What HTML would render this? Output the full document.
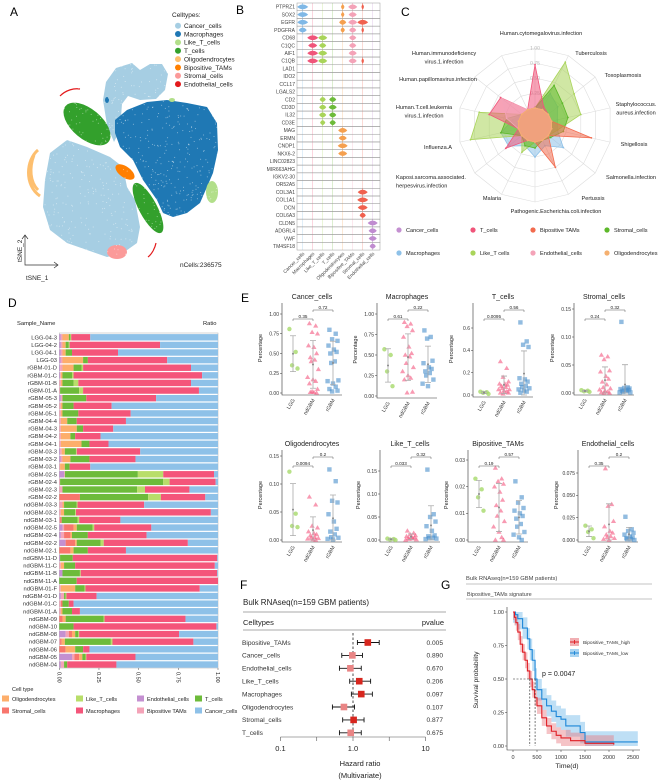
<!DOCTYPE html>
<html><head><meta charset="utf-8">
<style>
html,body{margin:0;padding:0;background:#fff;}
svg{display:block;font-family:"Liberation Sans",Arial,sans-serif;}
</style></head>
<body>
<svg id="fig" width="672" height="781" viewBox="0 0 672 781" xmlns="http://www.w3.org/2000/svg"></svg>
<script>
// ---------- DATA ----------
// Panel B
const bGenes=["PTPRZ1","SOX2","EGFR","PDGFRA","CD68","C1QC","AIF1","C1QB","LAD1","IDO2","CCL17","LGALS2","CD2","CD3D","IL32","CD3E","MAG","ERMN","CNDP1","NKX6-2","LINC02823","MIR663AHG","IGKV2-30","OR52A5","COL3A1","COL1A1","DCN","COL6A3","CLDN5","ADGRL4","VWF","TM4SF18"];
const bTypes=["Cancer_cells","Macrophages","Like_T_cells","T_cells","Oligodendrocytes","Bipositive_TAMs","Stromal_cells","Endothelial_cells"];
const bExpr=[
[1,0,0,0,.2,.8,.1,0],[1,0,0,0,.2,.7,0,0],[1,0,0,0,.6,.8,1,0],[.7,0,0,0,.3,.6,.1,0],
[0,1,.8,0,0,.6,0,0],[0,.8,.6,0,0,.6,0,0],[0,1,.8,0,0,.7,0,0],[0,1,.8,0,0,.7,.1,0],
[0,0,0,0,0,0,0,0],[0,0,0,0,0,0,0,0],[0,0,0,0,0,0,0,0],[0,0,0,0,0,0,0,0],
[0,0,.5,.6,0,0,0,0],[0,0,.6,.7,0,0,0,0],[0,0,.6,.6,0,0,0,0],[0,0,.4,.5,0,0,0,0],
[0,0,0,0,.8,0,0,0],[0,0,0,0,.7,0,0,0],[0,0,0,0,.9,0,0,0],[0,0,0,0,.8,0,0,0],
[0,0,0,0,0,0,0,0],[0,0,0,0,0,0,0,0],[0,0,0,0,0,0,0,0],[0,0,0,0,0,0,0,0],
[0,0,0,0,0,0,.9,0],[0,0,0,0,0,0,1,0],[0,0,0,0,0,0,.9,0],[0,0,0,0,0,0,.5,0],
[0,0,0,0,0,0,0,.9],[0,0,0,0,0,0,0,.7],[0,0,0,0,0,0,0,.7],[0,0,0,0,0,0,0,.5]];
// Panel C radar
const cAxes=["Human.cytomegalovirus.infection","Tuberculosis","Toxoplasmosis","Staphylococcus.aureus.infection","Shigellosis","Salmonella.infection","Pertussis","Pathogenic.Escherichia.coli.infection","Malaria","Kaposi.sarcoma.associated.herpesvirus.infection","Influenza.A","Human.T.cell.leukemia.virus.1.infection","Human.papillomavirus.infection","Human.immunodeficiency.virus.1.infection"];
const cCancer=[0,0,0,0,0,0,0,0,0,0,0,0,0,0];
const cMacro=[0,.3,.2,.1,.1,.32,.1,.25,.1,.28,.3,.1,0,0];
const cLikeT=[0,.88,.55,.5,.1,0,0,0,.22,0,.82,.67,0,0];
const cStromal=[0,.45,.3,.28,.2,.05,0,.1,.1,0,.3,.2,0,0];
const cTcells=[.72,.05,0,0,0,0,0,0,0,.34,0,.5,.45,0];
const cBipos=[0,0,0,0,.68,0,.5,0,0,0,0,0,0,0];
const cEndo=[0,0,0,0,0,0,0,0,0,0,0,.2,.42,0];
const cOligo=[0,0,0,0,0,0,0,0,0,0,0,0,0,0];
// Panel D stacked (order: endo,bipos,stromal,oligo,T,likeT,macro; cancer = remainder)
const dSamples=["LGG-04-3","LGG-04-2","LGG-04-1","LGG-03","rGBM-01-D","rGBM-01-C","rGBM-01-B","rGBM-01-A","rGBM-05-3","rGBM-05-2","rGBM-05-1","rGBM-04-4","rGBM-04-3","rGBM-04-2","rGBM-04-1","rGBM-03-3","rGBM-03-2","rGBM-03-1","rGBM-02-5","rGBM-02-4","rGBM-02-3","rGBM-02-2","ndGBM-03-3","ndGBM-03-2","ndGBM-03-1","ndGBM-02-5","ndGBM-02-4","ndGBM-02-2","ndGBM-02-1","ndGBM-11-D","ndGBM-11-C","ndGBM-11-B","ndGBM-11-A","ndGBM-01-F","ndGBM-01-D","ndGBM-01-C","ndGBM-01-A","ndGBM-09","ndGBM-10","ndGBM-08","ndGBM-07","ndGBM-06","ndGBM-05","ndGBM-04"];
const dProps=[
[.01,.01,0,.04,.01,.005,.12],[.01,.01,0,.02,.02,.005,.57],[.01,.01,0,.02,.04,0,.29],[.01,.01,0,.13,.03,0,.5],
[.005,.015,0,.07,.05,.01,.68],[.005,.005,0,.01,.06,.01,.81],[0,.01,0,.01,.07,.03,.71],[0,.005,0,0,.12,.025,.73],
[.01,.01,0,0,.15,0,.44],[0,.01,0,.01,.07,0,.24],[0,.01,0,.01,.1,0,.33],[0,.01,0,.04,.06,0,.31],
[0,.01,0,.1,.04,0,.19],[0,.01,0,.06,.03,0,.16],[0,.01,0,.13,.05,0,.12],[.005,.01,0,.02,.07,.005,.4],
[.01,.01,0,.05,.12,0,.29],[0,.005,0,.03,.03,0,.13],[.03,.005,0,0,.46,.16,.32],[0,.005,0,0,.65,.04,.29],
[0,.02,0,0,.47,.05,.28],[0,0,.13,0,.43,.08,.28],[0,.02,0,.01,.08,.005,.42],[0,.01,0,.02,.07,.005,.85],
[0,.005,.01,0,.1,.01,.26],[.02,.01,.06,.02,.1,.01,.36],[.01,.02,.04,.01,.1,0,.37],[.04,0,.06,.01,.15,.02,.53],
[0,0,.07,.02,.09,0,.24],[.005,0,0,0,.08,0,.91],[0,.01,0,.02,.07,0,.88],[.02,0,0,0,.11,.005,.86],
[0,0,0,0,.11,0,.89],[0,.01,0,.09,.06,.005,.72],[.01,.02,0,0,.01,.005,.19],[0,.01,.01,0,.04,0,.03],
[0,.01,0,.01,.06,0,.05],[0,0,.02,.02,.24,.005,.51],[0,0,0,0,.09,0,.9],[.04,.02,.02,.02,.02,.005,.63],
[0,.005,.01,.02,.29,.01,.51],[0,0,.04,.06,.05,0,.04],[.08,.015,.03,.02,.02,.005,.31],[.01,.02,0,0,.02,0,.31]];
const dTicks=[0,0.25,0.5,0.75,1];
const dTickLabels=["0.00","0.25","0.50","0.75","1.00"];
// Panel E
const eTitles=["Cancer_cells","Macrophages","T_cells","Stromal_cells","Oligodendrocytes","Like_T_cells","Bipositive_TAMs","Endothelial_cells"];
const eLGG=[[.81,.52,.35,.31],[.57,.5,.3,.12],[.03,.025,.02,.01],[.005,.004,.003,.002],[.122,.047,.025,.023],[.003,.002,.001,0],[.023,.019,.016,.011],[.016,.012,.009,.002]];
const eND=[[.88,.85,.77,.75,.6,.58,.5,.45,.42,.4,.3,.2,.17,.15,.12,.05,.02,.01,.01,0],
[.9,.88,.85,.8,.72,.6,.52,.5,.48,.4,.35,.3,.25,.22,.2,.05,.04],
[.3,.24,.16,.12,.1,.1,.09,.08,.07,.06,.05,.05,.04,.03,.02,.02,.01],
[.068,.065,.06,.04,.038,.03,.025,.02,.015,.01,.008,.006,.004,.002,.001,0,0],
[.077,.063,.025,.022,.015,.012,.01,.008,.005,.004,.003,.002,.001,0],
[.02,.015,.012,.01,.008,.006,.005,.004,.003,.002,.001,0],
[.027,.023,.022,.021,.02,.018,.015,.013,.011,.009,.007,.005,.003,.001,0,0],
[.08,.04,.038,.021,.015,.01,.008,.006,.004,.003,.002,.001,0]];
const eRG=[[.8,.75,.68,.66,.6,.55,.52,.5,.4,.38,.16,.15,.12,.08,.05,.03,.02],
[.8,.72,.7,.43,.4,.35,.33,.3,.28,.25,.2,.15,.12],
[.65,.48,.45,.43,.15,.14,.12,.1,.08,.07,.06,.05,.04,.03,.02],
[.127,.01,.009,.008,.007,.006,.005,.004,.003,.002,.001,.001],
[.126,.105,.07,.067,.046,.033,.02,.015,.01,.005,.004,.002,.001],
[.153,.056,.05,.04,.03,.02,.01,.008,.005,.004,.003,.002],
[.022,.016,.014,.012,.011,.01,.009,.008,.006,.005,.003,.002,.001,0],
[.026,.012,.01,.008,.006,.004,.003,.002,.001,.001,0]];
const eTicks=[[0,.25,.5,.75,1],[0,.25,.5,.75,1],[0,.2,.4,.6],[0,.05,.1,.15],[0,.05,.1,.15],[0,.05,.1,.15],[0,.01,.02,.03],[0,.025,.05,.075]];
const eTickLabels=[["0.00","0.25","0.50","0.75","1.00"],["0.00","0.25","0.50","0.75","1.00"],["0.0","0.2","0.4","0.6"],["0.00","0.05","0.10","0.15"],["0.00","0.05","0.10","0.15"],["0.00","0.05","0.10","0.15"],["0.00","0.01","0.02","0.03"],["0.000","0.025","0.050","0.075"]];
const ePLeft=["0.35","0.61","0.0095","0.24","0.0094","0.033","0.19","0.35"];
const ePRight=["0.72","0.22","0.56","0.32","0.2","0.32","0.57","0.2"];
// Panel F
const fTypes=["Bipositive_TAMs","Cancer_cells","Endothelial_cells","Like_T_cells","Macrophages","Oligodendrocytes","Stromal_cells","T_cells"];
const fHR=[1.6,0.98,0.92,1.22,1.3,0.75,1.02,0.93];
const fLo=[1.15,0.7,0.65,0.9,0.95,0.52,0.72,0.65];
const fHi=[2.3,1.35,1.3,1.75,1.85,1.05,1.42,1.3];
const fP=["0.005","0.890","0.670","0.206","0.097","0.107","0.877","0.675"];
// Panel G
const gHighT=[0,30,60,100,150,200,250,300,350,400,450,500,600,700,800,900,1000,1200,1500,2100];
const gHighS=[1,.96,.92,.85,.76,.7,.64,.56,.5,.42,.36,.3,.21,.15,.11,.08,.06,.04,.02,.01];
const gLowT=[0,50,100,200,300,350,400,460,500,600,700,800,900,1000,1100,1400,1500,2600];
const gLowS=[1,.98,.95,.88,.8,.72,.64,.5,.42,.35,.3,.26,.22,.2,.15,.1,.03,.03];
const gXTicks=[0,500,1000,1500,2000,2500];
const gYTicks=[0,.25,.5,.75,1];
const gYLabels=["0.00","0.25","0.50","0.75","1.00"];

// ---------- HELPERS ----------
const NS="http://www.w3.org/2000/svg";
const svg=document.getElementById("fig");
function mk(tag,a,p){const e=document.createElementNS(NS,tag);for(const k in a)e.setAttribute(k,a[k]);(p||svg).appendChild(e);return e;}
function tx(s,x,y,size,extra,p){const e=mk("text",Object.assign({x:x,y:y,"font-size":size,fill:"#222"},extra||{}),p);e.textContent=s;return e;}
function grp(){return mk("g",{});}

// ---------- PANEL LETTERS ----------
[["A",10,16],["B",236,14],["C",401,16],["D",8,307],["E",241,302],["F",240,589],["G",441,589]].forEach(function(L){
  const t=tx(L[0],L[1],L[2],12,{fill:"#000"});
  
  
});

// ---------- PANEL A ----------
const gA=grp();


const aShapes=[
 ["polygon",{points:"103,100 106,82 116,68 132,63 140,70 150,64 162,64 168,74 165,90 156,99 140,100 128,96 122,104 120,130 114,142 107,125",fill:"#A6CEE3"},"cancer-cluster-top"],
 ["polygon",{points:"50,153 67,140 87,147 110,157 123,167 127,187 135,200 140,227 137,243 123,253 107,257 87,250 67,243 50,230 43,207 45,180",fill:"#A6CEE3"},"cancer-cluster-main"],
 ["polygon",{points:"115,120 127,110 147,102 167,100 187,103 207,107 217,123 218,150 213,173 207,187 200,203 187,213 173,217 163,213 157,200 143,180 133,160 120,147 115,133",fill:"#1F78B4"},"macrophage-cluster"],
 ["ellipse",{cx:87,cy:124,rx:28,ry:15,transform:"rotate(40 87 124)",fill:"#33A02C"},"tcell-cluster-1"],
 ["ellipse",{cx:148,cy:208,rx:28,ry:9,transform:"rotate(62 148 208)",fill:"#33A02C"},"tcell-cluster-2"],
 ["ellipse",{cx:125,cy:172,rx:11,ry:5.5,transform:"rotate(35 125 172)",fill:"#FF7F00"},"bipositive-cluster"],
 ["ellipse",{cx:212,cy:192,rx:6,ry:11,fill:"#B2DF8A"},"like-t-cluster"],
 ["ellipse",{cx:117,cy:252,rx:10,ry:7,fill:"#FB9A99"},"stromal-cluster"],
 ["path",{d:"M38,150 C26,160 24,185 40,196 M34,155 C29,168 30,182 38,190",stroke:"#FDBF6F","stroke-width":3,fill:"none"},"oligo-cluster"],
 ["path",{d:"M60,96 C66,90 74,88 80,89 M148,257 C152,254 155,248 156,243",stroke:"#E31A1C","stroke-width":1.2,fill:"none"},"endothelial-cluster"],
 ["ellipse",{cx:172,cy:100,rx:3,ry:2,fill:"#B2DF8A"},"like-t-small"],
 ["ellipse",{cx:107,cy:100,rx:2,ry:3,fill:"#1F78B4"},"macro-small"]];
aShapes.forEach(function(s){
  const e=mk(s[0],s[1],gA);
  
  
});
// speckle texture
let seed=7;function rnd(){seed=(seed*16807)%2147483647;return seed/2147483647;}
for(let i=0;i<900;i++){const x=45+rnd()*175,y=62+rnd()*195;
  const d=mk("circle",{cx:x.toFixed(1),cy:y.toFixed(1),r:0.5,fill:"#fff","fill-opacity":0.55},gA);
  
  }
const aLegCols=["#A6CEE3","#1F78B4","#B2DF8A","#33A02C","#FDBF6F","#FF7F00","#FB9A99","#E31A1C"];
const aLegNames=["Cancer_cells","Macrophages","Like_T_cells","T_cells","Oligodendrocytes","Biopositive_TAMs","Stromal_cells","Endothelial_cells"];
const lt=tx("Celltypes:",172,17,6.5);


aLegNames.forEach(function(n,i){
  const y=25.7+i*8.35;
  const c=mk("circle",{cx:178,cy:y,r:3,fill:aLegCols[i]});
  
  
  const t=tx(n.replace("Biopositive","Bipositive"),184,y+2.3,6.5);
  
  
});
const ax=mk("path",{d:"M25,235 L25,265 L58,265 M22,239 L25,235 L28,239 M54,262 L58,265 L54,268",stroke:"#333","stroke-width":0.7,fill:"none"});


const t2=tx("tSNE_2",22,262,6.5,{transform:"rotate(-90 22 262)"});


const t1=tx("tSNE_1",26,280,6.5);


const nc=tx("nCells:236575",180,267,6.5);



// ---------- PANEL B ----------
const bCols=["#7FB8E6","#F0557A","#A9D45A","#6DBB3A","#F5A04F","#F4A3B8","#F0614F","#C08CD0"];
const bX0=297,bX1=380,bY0=3,bStep=7.72;
function bColX(i){return 302.7+i*10;}
function bRowY(i){return bY0+bStep*i+bStep/2;}
bTypes.forEach(function(t,i){
  const l=mk("line",{x1:bColX(i),x2:bColX(i),y1:bY0,y2:bY0+bStep*32,stroke:bCols[i],"stroke-width":0.4,"stroke-opacity":0.6});
  
  
  const lb=tx(t,bColX(i)+2,254,4.8,{"text-anchor":"end",transform:"rotate(-45 "+(bColX(i)+2)+" 254)",fill:"#444"});
  
  
});
bGenes.forEach(function(g,r){
  const y=bY0+bStep*r;
  const rect=mk("rect",{x:bX0,y:y,width:bX1-bX0,height:bStep,fill:"none",stroke:"#999","stroke-width":0.5});
  
  
  const lb=tx(g,295,y+bStep/2+1.8,5,{"text-anchor":"end",fill:"#444"});
  
  
  bExpr[r].forEach(function(v,c){
    if(v<=0)return;
    const cx=bColX(c),cy=bRowY(r),w=4.5*v+0.5,h=bStep*0.45;
    const p=mk("path",{d:"M"+(cx-w)+","+cy+" Q"+cx+","+(cy-h*1.2)+" "+(cx+w)+","+cy+" Q"+cx+","+(cy+h*1.2)+" "+(cx-w)+","+cy+" Z M"+cx+","+(cy-h)+" L"+cx+","+(cy+h),fill:bCols[c],stroke:bCols[c],"stroke-width":0.6});
    
    
  });
});

// ---------- PANEL C ----------
const cCx=535,cCy=125;
function cR(v){return 17+60*v;}
function cPt(i,v){const a=-Math.PI/2+i*2*Math.PI/14;return [cCx+cR(v)*Math.cos(a),cCy+cR(v)*Math.sin(a)];}
[0,.25,.5,.75,1].forEach(function(v){
  const pts=cAxes.map(function(_,i){return cPt(i,v).map(n=>n.toFixed(1)).join(",");}).join(" ");
  const p=mk("polygon",{points:pts,fill:"none",stroke:"#ddd","stroke-width":0.6});
  
  
});
cAxes.forEach(function(_,i){const a=cPt(i,0),b=cPt(i,1);
  const l=mk("line",{x1:a[0],y1:a[1],x2:b[0],y2:b[1],stroke:"#ddd","stroke-width":0.6});
  
  });
["0","0.25","0.50","0.75","1.00"].forEach(function(s,i){
  const t=tx(s,cCx,cCy-cR(i*0.25)+2,5,{"text-anchor":"middle",fill:"#bbb"});
  
  });
const cSeries=[[cCancer,"#C490D1","cancer"],[cMacro,"#8EC1E8","macrophages"],[cLikeT,"#A9D45A","like-t"],[cStromal,"#5DB82A","stromal"],[cTcells,"#F0557A","t-cells"],[cBipos,"#F26B4E","bipositive"],[cEndo,"#F4A3B8","endothelial"],[cOligo,"#F5B070","oligodendrocytes"]];
cSeries.forEach(function(s){
  const pts=s[0].map(function(v,i){return cPt(i,v).map(n=>n.toFixed(1)).join(",");}).join(" ");
  const p=mk("polygon",{points:pts,fill:s[1],"fill-opacity":0.55,stroke:s[1],"stroke-width":0.8});
  
  
  s[0].forEach(function(v,i){const q=cPt(i,v);
    const d=mk("circle",{cx:q[0],cy:q[1],r:0.9,fill:s[1]});
    
    });
});
const cLabs=[[["Human.cytomegalovirus.infection"],541,35,"middle"],[["Tuberculosis"],591,55,"middle"],[["Toxoplasmosis"],623,77,"middle"],[["Staphylococcus.","aureus.infection"],636,106,"middle"],[["Shigellosis"],634,146,"middle"],[["Salmonella.infection"],631,179,"middle"],[["Pertussis"],593,200,"middle"],[["Pathogenic.Escherichia.coli.infection"],556,213,"middle"],[["Malaria"],492,200,"middle"],[["Kaposi.sarcoma.associated.","herpesvirus.infection"],396,179,"start"],[["Influenza.A"],438,149,"middle"],[["Human.T.cell.leukemia","virus.1.infection"],424,109,"middle"],[["Human.papillomavirus.infection"],438,81,"middle"],[["Human.immunodeficiency","virus.1.infection"],444,55,"middle"]];
cLabs.forEach(function(L){L[0].forEach(function(s,j){
  const t=tx(s,L[1],L[2]+j*8.3,5.6,{"text-anchor":L[3]});
  
  });});
const cLegN=[["Cancer_cells","#C490D1"],["T_cells","#F0557A"],["Bipositive TAMs","#F26B4E"],["Stromal_cells","#5DB82A"],["Macrophages","#8EC1E8"],["Like_T cells","#A9D45A"],["Endothelial_cells","#F4A3B8"],["Oligodendrocytes","#F5B070"]];
const cLegX=[399,473,533,607];
cLegN.forEach(function(n,i){const x=cLegX[i%4],y=i<4?230:253;
  const c=mk("circle",{cx:x,cy:y,r:2.6,fill:n[1]});
  
  
  const t=tx(n[0],x+7,y+2,5.6);
  
  });

// ---------- PANEL D ----------
const dCols=["#C490D1","#F4A3B8","#F8766D","#FDAE6B","#6DBB3A","#B8DE6A","#F4557A","#8EC1E8"];
const dX0=59.3,dW=158.7;
function dX(f){return dX0+f*dW;}
function dY(i){return 337.3+i*7.61;}
const sn=tx("Sample_Name",17,325,5.8);


const rt=tx("Ratio",203,325,5.8);


const dbg=mk("rect",{x:dX0,y:333,width:dW,height:335,fill:"none",stroke:"#bbb","stroke-width":0.6});


dSamples.forEach(function(s,i){
  let acc=0;const y=dY(i);
  const vals=dProps[i].slice();const sum=vals.reduce((a,b)=>a+b,0);vals.push(Math.max(0,1-sum));
  vals.forEach(function(v,k){if(v<=0)return;
    const r=mk("rect",{x:dX(acc).toFixed(2),y:(y-3.2).toFixed(2),width:(v*dW).toFixed(2),height:6.4,fill:dCols[k]});
    
    
    acc+=v;});
  const t=tx(s,57,y+2,5.8,{"text-anchor":"end",fill:"#333"});
  
  
});
dTicks.forEach(function(v,i){const x=dX(v);
  const l=mk("line",{x1:x,x2:x,y1:668,y2:670,stroke:"#555","stroke-width":0.5});
  
  
  const t=tx(dTickLabels[i],x-2,672,5.5,{transform:"rotate(90 "+(x-2)+" 672)"});
  
  });
const ct=tx("Cell type",12,691,5.5);


const dLeg=[["Oligodendrocytes",3],["Like_T_cells",5],["Endothelial_cells",0],["T_cells",4],["Stromal_cells",2],["Macrophages",6],["Bipositive TAMs",1],["Cancer_cells",7]];
const dLegX=[2,76,137,195];
dLeg.forEach(function(n,i){const x=dLegX[i%4],y=i<4?699:711;
  const r=mk("rect",{x:x,y:y-3.5,width:7,height:6,fill:dCols[n[1]]});
  
  
  const t=tx(n[0],x+10,y+2,5.6);
  
  });

// ---------- PANEL E ----------
const eAxX=[282,377,473,574,282,380,468,578];
const eY0=[393,396,395,393,540,540,540,540];
const eYTopPx=[314,314,328,309,456,471,460,473];
const eAxTop=[303,303,303,303,450,450,450,450];
const eTitleY=[299,299,299,299,446,446,446,446];
const eCatOff=[11,31,51];
const eJit=[-4,3,-1,5,-5,1,4,-3,2,-2,6,-6,0,3,-4,5,-1,1,-3,4];
eTitles.forEach(function(title,k){
  const top=eTicks[k][eTicks[k].length-1];
  function Y(v){return eY0[k]+(eYTopPx[k]-eY0[k])*v/top;}
  const ax0=eAxX[k];
  const g=grp();
  
  
  const t=tx(title,ax0+30,eTitleY[k],7,{"text-anchor":"middle"},g);
  
  
  const axl=mk("path",{d:"M"+ax0+","+eAxTop[k]+" L"+ax0+","+(eY0[k]+2)+" L"+(ax0+60)+","+(eY0[k]+2),stroke:"#333","stroke-width":0.6,fill:"none"},g);
  
  
  eTicks[k].forEach(function(v,i){
    const tk=mk("line",{x1:ax0-2,x2:ax0,y1:Y(v),y2:Y(v),stroke:"#333","stroke-width":0.5},g);
    
    
    const tl=tx(eTickLabels[k][i],ax0-3,Y(v)+1.8,5,{"text-anchor":"end",fill:"#333"},g);
    
    });
  const yl=tx("Percentage",ax0-20,(eAxTop[k]+eY0[k])/2,5.5,{"text-anchor":"middle",transform:"rotate(-90 "+(ax0-20)+" "+((eAxTop[k]+eY0[k])/2)+")"},g);
  
  
  const groups=[[eLGG[k],"#A6D96A","circle","LGG"],[eND[k],"#F4577F","tri","ndGBM"],[eRG[k],"#4A8FCB","sq","rGBM"]];
  groups.forEach(function(gp,gi){
    const cx=ax0+eCatOff[gi];
    gp[0].forEach(function(v,i){
      const x=cx+eJit[i%eJit.length]*0.9,y=Y(v);let m;
      if(gp[2]=="circle")m=mk("circle",{cx:x,cy:y,r:2.2,fill:gp[1],"fill-opacity":0.8},g);
      else if(gp[2]=="tri")m=mk("polygon",{points:x+","+(y-2.6)+" "+(x-2.6)+","+(y+1.8)+" "+(x+2.6)+","+(y+1.8),fill:gp[1],"fill-opacity":0.6},g);
      else m=mk("rect",{x:x-2.2,y:y-2.2,width:4.4,height:4.4,fill:gp[1],"fill-opacity":0.6},g);
      
      });
    const n=gp[0].length,mean=gp[0].reduce((a,b)=>a+b,0)/n;
    const sd=Math.sqrt(gp[0].reduce((a,b)=>a+(b-mean)*(b-mean),0)/(n-1));
    const lo=Math.max(0,mean-sd),hi=mean+sd;
    const eb=mk("path",{d:"M"+cx+","+Y(lo)+" L"+cx+","+Y(hi)+" M"+(cx-3)+","+Y(lo)+" L"+(cx+3)+","+Y(lo)+" M"+(cx-3)+","+Y(hi)+" L"+(cx+3)+","+Y(hi),stroke:"#aaa","stroke-width":0.8,fill:"none"},g);
    
    
    const md=mk("circle",{cx:cx,cy:Y(mean),r:1,fill:"#888"},g);
    
    
    const xl=tx(gp[3],cx+2,eY0[k]+7,5.2,{"text-anchor":"end",transform:"rotate(-60 "+(cx+2)+" "+(eY0[k]+7)+")",fill:"#333"},g);
    
    
  });
  const b1=eAxTop[k]+16,b2=eAxTop[k]+7;
  const br=mk("path",{d:"M"+(ax0+11)+","+(b1+2)+" L"+(ax0+11)+","+b1+" L"+(ax0+31)+","+b1+" L"+(ax0+31)+","+(b1+2)+" M"+(ax0+31)+","+(b2+2)+" L"+(ax0+31)+","+b2+" L"+(ax0+51)+","+b2+" L"+(ax0+51)+","+(b2+2),stroke:"#333","stroke-width":0.4,fill:"none"},g);
  
  
  const p1=tx(ePLeft[k],ax0+21,b1-0.8,4.6,{"text-anchor":"middle"},g);
  
  
  const p2=tx(ePRight[k],ax0+41,b2-0.8,4.6,{"text-anchor":"middle"},g);
  
  
});

// ---------- PANEL F ----------
function fX(v){return 353+72.5*Math.log10(v);}
function fY(i){return 642.5+i*12.9;}
const ft=tx("Bulk RNAseq(n=159  GBM patients)",243,605,8);


const fl=mk("path",{d:"M243,612 L446,612 M243,630 L446,630",stroke:"#555","stroke-width":0.6});


const fh1=tx("Celltypes",243,625,7.5);


const fh2=tx("pvalue",444,625,7.5,{"text-anchor":"end"});


const fd=mk("line",{x1:fX(1),x2:fX(1),y1:633,y2:737,stroke:"#222","stroke-width":0.8,"stroke-dasharray":"2.5,2"});


fTypes.forEach(function(n,i){const y=fY(i);
  const t=tx(n,242,y+2.3,6.6,{fill:"#333"});
  
  
  const ci=mk("path",{d:"M"+fX(fLo[i])+","+y+" L"+fX(fHi[i])+","+y+" M"+fX(fLo[i])+","+(y-2.5)+" L"+fX(fLo[i])+","+(y+2.5)+" M"+fX(fHi[i])+","+(y-2.5)+" L"+fX(fHi[i])+","+(y+2.5),stroke:"#111","stroke-width":0.9,fill:"none"});
  
  
  const sig=parseFloat(fP[i])<0.1||n=="Like_T_cells"||n=="Stromal_cells";
  const r=mk("rect",{x:fX(fHR[i])-3.3,y:y-3.3,width:6.6,height:6.6,fill:sig?"#D7261E":"#E98585"});
  
  
  const p=tx(fP[i],443,y+2.3,6.6,{"text-anchor":"end",fill:"#333"});
  
  });
const fax=mk("line",{x1:fX(0.1),x2:fX(10),y1:737,y2:737,stroke:"#555","stroke-width":0.6});


[0.1,0.316,1,3.16,10].forEach(function(v){
  const l=mk("line",{x1:fX(v),x2:fX(v),y1:737,y2:741,stroke:"#555","stroke-width":0.6});
  
  });
[["0.1",0.1],["1.0",1],["10",10]].forEach(function(L){
  const t=tx(L[0],fX(L[1]),751,7.5,{"text-anchor":"middle"});
  
  });
const fx1=tx("Hazard ratio",360,766,7.5,{"text-anchor":"middle"});


const fx2=tx("(Multivariate)",360,778,7.5,{"text-anchor":"middle"});



// ---------- PANEL G ----------
function gX(t){return 513+t*0.048;}
function gY(s){return 746-134*s;}
const gt=tx("Bulk RNAseq(n=159  GBM patients)",466,580,5.8,{fill:"#444"});


const gs=tx("Bipositive_TAMs signature",467,596,5.5,{fill:"#444"});


const glines=mk("path",{d:"M466,584 L652,584 M466,599 L652,599",stroke:"#888","stroke-width":0.6});


function stepPath(T,S,dv){let d="M"+gX(T[0])+","+gY(Math.min(1,S[0]+dv));
  for(let i=1;i<T.length;i++){d+=" L"+gX(T[i])+","+gY(Math.min(1,Math.max(0,S[i-1]+dv)))+" L"+gX(T[i])+","+gY(Math.min(1,Math.max(0,S[i]+dv)));}
  return d;}
function bandPath(T,S,w){let up=stepPath(T,S,w);let lo=[];
  for(let i=T.length-1;i>=0;i--){lo.push(gX(T[i])+","+gY(Math.max(0,S[i]-w)));if(i>0)lo.push(gX(T[i])+","+gY(Math.max(0,S[i-1]-w)));}
  return up+" L"+lo.join(" L")+" Z";}
const bLow=mk("path",{d:bandPath(gLowT,gLowS,0.08),fill:"#6FB7E8","fill-opacity":0.45});


const bHigh=mk("path",{d:bandPath(gHighT,gHighS,0.06),fill:"#E87A80","fill-opacity":0.45});


const lLow=mk("path",{d:stepPath(gLowT,gLowS,0),fill:"none",stroke:"#1C86D8","stroke-width":1.1});


const lHigh=mk("path",{d:stepPath(gHighT,gHighS,0),fill:"none",stroke:"#E01E25","stroke-width":1.1});


const gdash=mk("path",{d:"M"+gX(0)+","+gY(.5)+" L"+gX(460)+","+gY(.5)+" M"+gX(350)+","+gY(.5)+" L"+gX(350)+","+gY(0)+" M"+gX(460)+","+gY(.5)+" L"+gX(460)+","+gY(0),stroke:"#222","stroke-width":0.6,"stroke-dasharray":"2,1.5",fill:"none"});


const gax=mk("path",{d:"M507,607 L507,750 L640,750",stroke:"#333","stroke-width":0.6,fill:"none"});


gYTicks.forEach(function(v,i){
  const l=mk("line",{x1:505,x2:507,y1:gY(v),y2:gY(v),stroke:"#333","stroke-width":0.5});
  
  
  const t=tx(gYLabels[i],504,gY(v)+1.8,5.5,{"text-anchor":"end",fill:"#333"});
  
  });
gXTicks.forEach(function(v){
  const l=mk("line",{x1:gX(v),x2:gX(v),y1:750,y2:752,stroke:"#333","stroke-width":0.5});
  
  
  const t=tx(String(v),gX(v),759,5.5,{"text-anchor":"middle",fill:"#333"});
  
  });
const gxt=tx("Time(d)",567,768,6.8,{"text-anchor":"middle"});


const gyt=tx("Survival probability",478,680,6.8,{"text-anchor":"middle",transform:"rotate(-90 478 680)"});


const gp=tx("p = 0.0047",542,676,7,{fill:"#222"});


[["Bipositive_TAMs_high","#E01E25","#E87A80",642],["Bipositive_TAMs_low","#1C86D8","#6FB7E8",653]].forEach(function(L){
  const r=mk("rect",{x:570,y:L[3]-4,width:9,height:8,fill:L[2],"fill-opacity":0.6});
  
  
  const l=mk("path",{d:"M570,"+L[3]+" L579,"+L[3]+" M574.5,"+(L[3]-2)+" L574.5,"+(L[3]+2),stroke:L[1],"stroke-width":0.9});
  
  
  const t=tx(L[0],583,L[3]+1.8,4.8,{fill:"#333"});
  
  });
</script>
</body></html>
